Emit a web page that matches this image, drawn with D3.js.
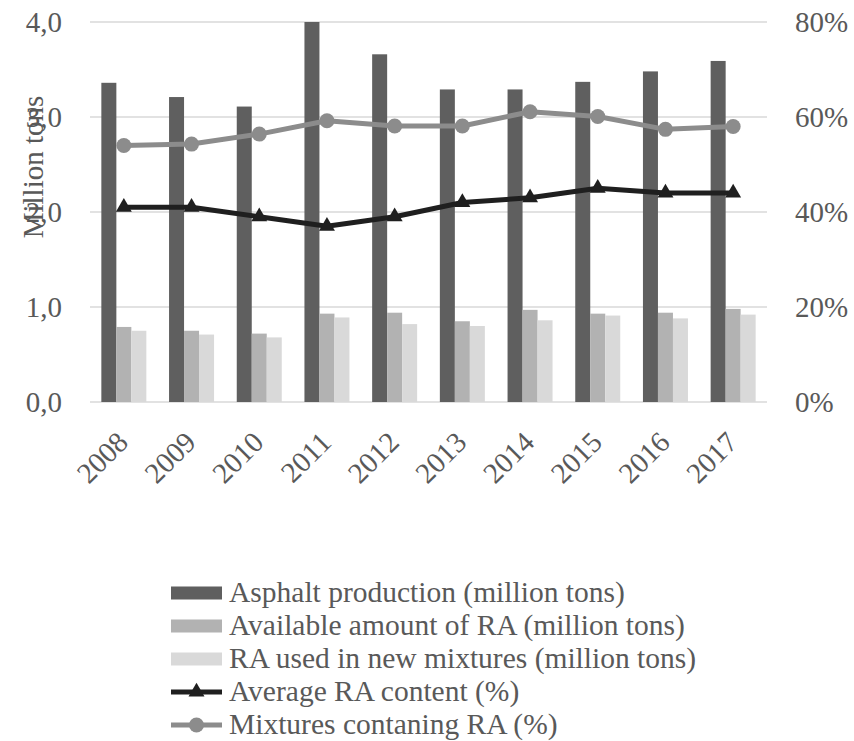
<!DOCTYPE html>
<html>
<head>
<meta charset="utf-8">
<script src="https://cdn.jsdelivr.net/npm/d3@7"></script>
<style>
  html, body { margin: 0; padding: 0; background: #fff; }
  svg { display: block; }
</style>
</head>
<body>
<svg id="chart" width="854" height="741"></svg>
<script>
// Years on the category axis
const years = ["2008", "2009", "2010", "2011", "2012", "2013", "2014", "2015", "2016", "2017"];

// Bar series, million tons
const asphaltProduction = [3.36, 3.21, 3.11, 4.0, 3.66, 3.29, 3.29, 3.37, 3.48, 3.59];
const availableRA       = [0.79, 0.75, 0.72, 0.93, 0.94, 0.85, 0.97, 0.93, 0.94, 0.98];
const raUsed            = [0.75, 0.71, 0.68, 0.89, 0.82, 0.80, 0.86, 0.91, 0.88, 0.92];

// Line series, percent
const avgRAContent      = [41, 41, 39, 37, 39, 42, 43, 45, 44, 44];
const mixturesWithRA    = [54, 54.3, 56.4, 59.2, 58.1, 58.1, 61.1, 60.1, 57.4, 58.0];

// Axis ticks
const leftTicks  = [0, 1, 2, 3, 4];
const rightTicks = [0, 20, 40, 60, 80];

const FONT = "'Liberation Serif', Tinos, 'Times New Roman', 'DejaVu Serif', serif";
const TEXT_COLOR = "#595959";

const barSeries = [
  { name: "Asphalt production (million tons)", values: asphaltProduction, color: "#5f5f5f" },
  { name: "Available amount of RA (million tons)", values: availableRA, color: "#b2b2b2" },
  { name: "RA used in new mixtures (million tons)", values: raUsed, color: "#d9d9d9" }
];
const lineSeries = [
  { name: "Average RA content (%)", values: avgRAContent, color: "#1f1f1f", marker: "triangle" },
  { name: "Mixtures contaning RA (%)", values: mixturesWithRA, color: "#8c8c8c", marker: "circle" }
];

const svg = d3.select("#chart");
const plot = { left: 90, right: 767, top: 22, bottom: 402 };

const x = d3.scaleBand().domain(years).range([plot.left, plot.right]).paddingInner(0).paddingOuter(0);
const groupWidth = 45;
const xb = d3.scaleBand().domain(d3.range(barSeries.length)).range([0, groupWidth]).padding(0);

const yL = d3.scaleLinear().domain([0, 4]).range([plot.bottom, plot.top]);
const yR = d3.scaleLinear().domain([0, 80]).range([plot.bottom, plot.top]);

const styleText = (sel, size) => sel
  .attr("font-family", FONT)
  .style("font-family", FONT)
  .style("font-size", size + "px")
  .attr("fill", TEXT_COLOR);

// Gridlines
svg.append("g")
  .selectAll("line")
  .data(leftTicks)
  .join("line")
  .attr("x1", plot.left).attr("x2", plot.right)
  .attr("y1", d => yL(d)).attr("y2", d => yL(d))
  .attr("stroke", "#d9d9d9").attr("stroke-width", 1.5);

// Left axis
const fmtL = d => d.toFixed(1).replace(".", ",");
svg.append("g")
  .attr("transform", `translate(${plot.left - 28},0)`)
  .call(d3.axisLeft(yL).tickValues(leftTicks).tickFormat(fmtL).tickSize(0).tickPadding(0))
  .call(g => g.select(".domain").remove())
  .attr("font-family", FONT)
  .selectAll("text")
  .call(styleText, 29)
  .attr("dy", "0.34em");

// Right axis
svg.append("g")
  .attr("transform", `translate(${plot.right + 28},0)`)
  .call(d3.axisRight(yR).tickValues(rightTicks).tickFormat(d => d + "%").tickSize(0).tickPadding(0))
  .call(g => g.select(".domain").remove())
  .attr("font-family", FONT)
  .selectAll("text")
  .call(styleText, 29)
  .attr("dy", "0.34em");

// Axis title
svg.append("text")
  .attr("transform", "translate(43,167) rotate(-90)")
  .attr("text-anchor", "middle")
  .call(styleText, 29)
  .text("Million tons");

// Bars
const groups = svg.append("g")
  .selectAll("g")
  .data(barSeries)
  .join("g")
  .attr("fill", d => d.color);
groups.each(function (s, si) {
  d3.select(this).selectAll("rect")
    .data(s.values)
    .join("rect")
    .attr("x", (v, i) => x(years[i]) + (x.bandwidth() - groupWidth) / 2 + xb(si))
    .attr("width", xb.bandwidth())
    .attr("y", v => yL(v))
    .attr("height", v => yL(0) - yL(v));
});

// Lines with markers
const cx = i => x(years[i]) + x.bandwidth() / 2;
const triangle = d3.symbol().type(d3.symbolTriangle).size(110);
lineSeries.forEach(s => {
  const line = d3.line().x((v, i) => cx(i)).y(v => yR(v));
  svg.append("path")
    .datum(s.values)
    .attr("d", line)
    .attr("fill", "none")
    .attr("stroke", s.color)
    .attr("stroke-width", 5)
    .attr("stroke-linejoin", "round");
  const m = svg.append("g").attr("fill", s.color);
  if (s.marker === "circle") {
    m.selectAll("circle").data(s.values).join("circle")
      .attr("cx", (v, i) => cx(i)).attr("cy", v => yR(v)).attr("r", 7.5);
  } else {
    m.selectAll("path").data(s.values).join("path")
      .attr("d", triangle)
      .attr("transform", (v, i) => `translate(${cx(i)},${yR(v)})`);
  }
});

// Category labels
svg.append("g")
  .selectAll("text")
  .data(years)
  .join("text")
  .attr("transform", (d, i) => `translate(${cx(i) + 6},${444}) rotate(-45)`)
  .attr("text-anchor", "end")
  .call(styleText, 29)
  .text(d => d);

// Legend
const legend = svg.append("g").attr("transform", "translate(171,0)");
const rowY = [593, 626, 659, 692, 725];
const entries = [
  ...barSeries.map(s => ({ ...s, kind: "bar" })),
  ...lineSeries.map(s => ({ ...s, kind: "line" }))
];
entries.forEach((e, i) => {
  const row = legend.append("g").attr("transform", `translate(0,${rowY[i]})`);
  if (e.kind === "bar") {
    row.append("rect").attr("x", 0).attr("y", -6.5).attr("width", 51).attr("height", 13).attr("fill", e.color);
  } else {
    row.append("line").attr("x1", 0).attr("x2", 51).attr("y1", 0).attr("y2", 0)
      .attr("stroke", e.color).attr("stroke-width", 5);
    if (e.marker === "circle") {
      row.append("circle").attr("cx", 25.5).attr("cy", 0).attr("r", 7.5).attr("fill", e.color);
    } else {
      row.append("path").attr("d", triangle).attr("transform", "translate(25.5,0)").attr("fill", e.color);
    }
  }
  row.append("text")
    .attr("x", 58).attr("y", 0).attr("dy", "0.31em")
    .call(styleText, 29.5)
    .text(e.name);
});
</script>
</body>
</html>
